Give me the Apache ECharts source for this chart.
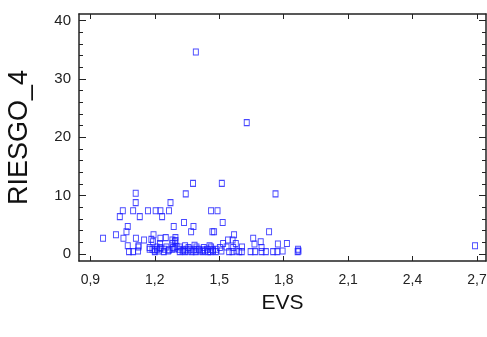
<!DOCTYPE html>
<html>
<head>
<meta charset="utf-8">
<script src="https://cdn.jsdelivr.net/npm/echarts@6/dist/echarts.min.js"></script>
<style>
  html, body { margin: 0; padding: 0; background: #fff; }
  #chart { width: 487px; height: 337px; }
</style>
</head>
<body>
<div id="chart"></div>
<script>
// EVS (x) and RIESGO_4 (y)
const evs = [
  1.391, 1.628, 1.378, 1.512, 1.111, 1.344, 1.762, 1.111, 1.273,
  1.051, 1.099, 1.168, 1.204, 1.226, 1.266, 1.462, 1.492,
  1.037, 1.130, 1.234,
  1.336, 1.516,
  1.074, 1.288, 1.380,
  1.068, 1.369, 1.468, 1.476, 1.732,
  1.019, 1.194, 1.569,
  0.959, 1.054, 1.112, 1.184, 1.226, 1.251, 1.296, 1.658,
  1.150, 1.282, 1.296, 1.541, 1.562,
  1.192, 1.293, 1.693,
  1.224, 1.282, 1.518, 1.577, 1.664, 1.773, 1.815,
  1.074, 1.124, 1.341, 1.385, 1.455, 2.691,
  1.124, 1.176, 1.208, 1.226, 1.254, 1.285, 1.301, 1.316, 1.357, 1.394, 1.428, 1.462, 1.503, 1.534, 1.565, 1.606, 1.697,
  1.176, 1.189, 1.200, 1.210, 1.226, 1.245, 1.266, 1.282, 1.293, 1.313, 1.332, 1.347, 1.363, 1.381, 1.394, 1.406, 1.425, 1.443, 1.459, 1.471, 1.487, 1.867,
  1.080, 1.099, 1.122, 1.200, 1.218, 1.242, 1.262, 1.316, 1.329, 1.341, 1.355, 1.371, 1.391, 1.409, 1.422, 1.434, 1.448, 1.459, 1.471, 1.484,
  1.510, 1.546, 1.562, 1.580, 1.593, 1.605, 1.646, 1.667, 1.697, 1.717, 1.751, 1.770, 1.795, 1.865, 1.869
];
const riesgo = [
  34.6, 22.5, 12.1, 12.1, 10.4, 10.3, 10.3, 8.8, 8.8,
  7.4, 7.4, 7.4, 7.4, 7.4, 7.4, 7.4, 7.4,
  6.4, 6.4, 6.4,
  5.4, 5.4,
  4.7, 4.7, 4.7,
  3.8, 3.8, 3.8, 3.8, 3.8,
  3.3, 3.3, 3.3,
  2.7, 2.7, 2.7, 2.5, 2.7, 2.8, 2.8, 2.7,
  2.4, 2.4, 2.3, 2.4, 2.4,
  2.1, 2.1, 2.1,
  1.8, 1.8, 1.8, 1.8, 1.7, 1.7, 1.8,
  1.4, 1.4, 1.4, 1.5, 1.4, 1.4,
  1.2, 1.1, 1.2, 1.1, 1.2, 1.1, 1.3, 1.2, 1.1, 1.2, 1.1, 1.2, 1.1, 1.2, 1.1, 1.2, 1.1,
  0.8, 0.8, 0.7, 0.8, 0.9, 0.8, 0.7, 0.8, 0.9, 0.8, 0.7, 0.8, 0.8, 0.7, 0.8, 0.8, 0.7, 0.8, 0.8, 0.7, 0.8, 0.8,
  0.4, 0.4, 0.5, 0.4, 0.5, 0.4, 0.5, 0.4, 0.5, 0.4, 0.5, 0.4, 0.4, 0.5, 0.4, 0.5, 0.4, 0.4, 0.5, 0.4,
  0.5, 0.4, 0.4, 0.5, 0.4, 0.4, 0.4, 0.4, 0.4, 0.4, 0.4, 0.4, 0.5, 0.4, 0.5
];

const xTicks = [0.9, 1.2, 1.5, 1.8, 2.1, 2.4, 2.7];
const yTicks = [0, 10, 20, 30, 40];
const yMinorTicks = [2, 4, 6, 8, 12, 14, 16, 18, 22, 24, 26, 28, 32, 34, 36, 38, 40];

const myChart = echarts.init(document.getElementById("chart"));

const axisColor = "#222";
const points = evs.map((x, i) => [x, riesgo[i]]);

const xAxisBase = {
  type: "value",
  min: 0.847,
  max: 2.742,
  splitLine: { show: false },
  axisLine: { show: true, onZero: false, lineStyle: { color: axisColor, width: 1.5 } },
};
const yAxisBase = {
  type: "value",
  min: -1.2,
  max: 41.1,
  splitLine: { show: false },
  axisLine: { show: true, onZero: false, lineStyle: { color: axisColor, width: 1.5 } },
};

const option = {
  animation: false,
  grid: { left: 79, top: 14, right: 1, bottom: 76, containLabel: false, outerBoundsMode: "none" },
  xAxis: [
    {
      ...xAxisBase,
      position: "bottom",
      name: "EVS",
      nameLocation: "middle",
      nameGap: 32,
      nameTextStyle: { fontFamily: "Liberation Sans", fontSize: 21, color: "#111" },
      axisTick: { show: true, inside: true, length: 5, customValues: xTicks, lineStyle: { color: axisColor } },
      axisLabel: {
        show: true,
        margin: 12,
        customValues: xTicks,
        fontFamily: "Liberation Sans",
        fontSize: 14,
        color: "#222",
        formatter: (v) => v.toFixed(1).replace(".", ","),
      },
    },
    {
      ...xAxisBase,
      position: "top",
      axisTick: { show: true, inside: true, length: 5, customValues: xTicks, lineStyle: { color: axisColor } },
      axisLabel: { show: false },
    },
  ],
  yAxis: [
    {
      ...yAxisBase,
      position: "left",
      name: "RIESGO_4",
      nameLocation: "middle",
      nameGap: 46,
      nameRotate: 90,
      nameTextStyle: { fontFamily: "Liberation Sans", fontSize: 27, color: "#111" },
      axisTick: { show: true, inside: true, length: 7, customValues: yTicks, lineStyle: { color: axisColor } },
      axisLabel: {
        show: true,
        margin: 8,
        customValues: yTicks,
        fontFamily: "Liberation Sans",
        fontSize: 15,
        color: "#222",
      },
    },
    {
      ...yAxisBase,
      position: "left",
      axisLine: { show: false },
      axisTick: { show: true, inside: true, length: 4, customValues: yMinorTicks, lineStyle: { color: axisColor } },
      axisLabel: { show: false },
    },
    {
      ...yAxisBase,
      position: "right",
      axisTick: { show: true, inside: true, length: 7, customValues: yTicks, lineStyle: { color: axisColor } },
      axisLabel: { show: false },
    },
    {
      ...yAxisBase,
      position: "right",
      axisLine: { show: false },
      axisTick: { show: true, inside: true, length: 4, customValues: yMinorTicks, lineStyle: { color: axisColor } },
      axisLabel: { show: false },
    },
  ],
  series: [
    {
      type: "scatter",
      xAxisIndex: 0,
      yAxisIndex: 0,
      symbol: "rect",
      symbolSize: [5, 6],
      itemStyle: { color: "rgba(255,255,255,0)", borderColor: "#1a1aff", borderWidth: 1 },
      data: points,
    },
  ],
};

myChart.setOption(option);
</script>
</body>
</html>
